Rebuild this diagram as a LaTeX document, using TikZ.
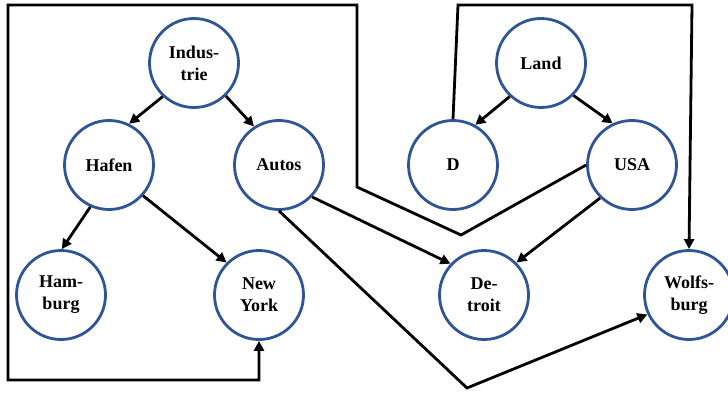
\documentclass[tikz,border=0pt]{standalone}
\usepackage{fontspec}
\setmainfont{Liberation Serif}
\usetikzlibrary{arrows.meta}
\definecolor{nodeblue}{RGB}{47,85,151}
\tikzset{
  cnode/.style={circle, draw=nodeblue, line width=2.8pt, fill=white, minimum size=89pt, inner sep=0pt,
    align=center, font=\fontsize{18}{22}\selectfont\bfseries},
  conn/.style={line width=2.8pt, draw=black, -{Triangle[length=10pt,width=10pt]}, line join=miter}
}
\begin{document}
\begin{tikzpicture}[x=1pt,y=-1pt]
\useasboundingbox (0,0) rectangle (728,393);
\clip (0,0) rectangle (728,393);
\node[cnode] (ind) at (194,63) {Indus-\\trie};
\node[cnode] (haf) at (109,165) {Hafen};
\node[cnode] (aut) at (279,165) {Autos};
\node[cnode] (land) at (541,63) {Land};
\node[cnode] (d) at (453,165) {D};
\node[cnode] (usa) at (632,165) {USA};
\node[cnode] (ham) at (61,295) {Ham-\\burg};
\node[cnode] (ny) at (259,295) {New\\York};
\node[cnode] (det) at (484,295) {De-\\troit};
\node[cnode] (wol) at (689,295) {Wolfs-\\burg};

\coordinate (u1) at (461,235);
\coordinate (u2) at (357,187);
\coordinate (u3) at (357,5);
\coordinate (u4) at (8,5);
\coordinate (u5) at (8,380);
\coordinate (u6) at (259,380);
\coordinate (d1) at (458,5);
\coordinate (d2) at (692,5);
\coordinate (a1) at (467,388);

\draw[conn] (ind.227) -- (haf.64);
\draw[conn] (ind.314) -- (aut.123);
\draw[conn] (haf.246) -- (ham.89);
\draw[conn] (haf.318) -- (ny.135);
\draw[conn] (land.227) -- (d.61);
\draw[conn] (land.315) -- (usa.115);
\draw[conn] (aut.-44) -- (det.137);
\draw[conn] (usa.226) -- (det.45);
\draw[conn] (aut.south) -- (a1) -- (wol.205);
\draw[conn] (usa.west) -- (u1) -- (u2) -- (u3) -- (u4) -- (u5) -- (u6) -- (ny.south);
\draw[conn] (d.north) -- (d1) -- (d2) -- (wol.north);
\end{tikzpicture}
\end{document}
